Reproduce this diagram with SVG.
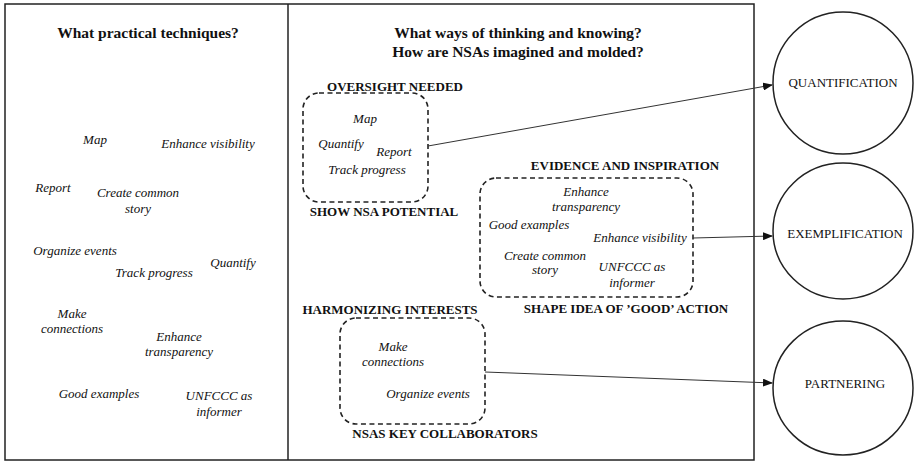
<svg xmlns="http://www.w3.org/2000/svg" width="916" height="463" viewBox="0 0 916 463" font-family="'Liberation Serif', 'DejaVu Serif', 'Times New Roman', serif">
<style>
text{fill:#111;text-anchor:middle}
.t{font-size:15.5px;font-weight:bold}
.h{font-size:13px;font-weight:bold}
.i{font-size:13px;font-style:italic}
.c{font-size:13px}
.frame{fill:none;stroke:#222;stroke-width:1.5}
.box{fill:none;stroke:#222;stroke-width:1.6;stroke-dasharray:5,3.5}
.circ{fill:#fff;stroke:#222;stroke-width:1.5}
.conn{stroke:#333;stroke-width:1;fill:none}
</style>
<defs>
<marker id="ah" markerWidth="10" markerHeight="8" refX="9" refY="4" orient="auto" markerUnits="userSpaceOnUse">
<path d="M0,0 L10,4 L0,8 Z" fill="#111"/>
</marker>
</defs>
<rect width="916" height="463" fill="#fff"/>
<g id="frame">
<rect class="frame" x="5" y="4" width="749" height="456"/>
<line class="frame" x1="288" y1="4" x2="288" y2="460"/>
</g>
<g id="left-panel">
<text class="t" x="148" y="38">What practical techniques?</text>
<text class="i" x="95" y="144">Map</text>
<text class="i" x="208" y="148">Enhance visibility</text>
<text class="i" x="53" y="192">Report</text>
<text class="i" x="138" y="197">Create common</text>
<text class="i" x="138" y="213">story</text>
<text class="i" x="75" y="255">Organize events</text>
<text class="i" x="233" y="267">Quantify</text>
<text class="i" x="154" y="277">Track progress</text>
<text class="i" x="72" y="318">Make</text>
<text class="i" x="72" y="333">connections</text>
<text class="i" x="179" y="341">Enhance</text>
<text class="i" x="179" y="356">transparency</text>
<text class="i" x="99" y="398">Good examples</text>
<text class="i" x="219" y="400">UNFCCC as</text>
<text class="i" x="219" y="416">informer</text>
</g>
<g id="middle-title">
<text class="t" x="518" y="38">What ways of thinking and knowing?</text>
<text class="t" x="518" y="57">How are NSAs imagined and molded?</text>
</g>
<g id="oversight">
<text class="h" x="395" y="91">OVERSIGHT NEEDED</text>
<rect class="box" x="303" y="93" width="125" height="109" rx="16"/>
<text class="i" x="365" y="123">Map</text>
<text class="i" x="341" y="148">Quantify</text>
<text class="i" x="394" y="156">Report</text>
<text class="i" x="367" y="174">Track progress</text>
<text class="h" x="384" y="216">SHOW NSA POTENTIAL</text>
</g>
<g id="evidence">
<text class="h" x="625" y="170">EVIDENCE AND INSPIRATION</text>
<rect class="box" x="480" y="178" width="213" height="119" rx="16"/>
<text class="i" x="586" y="196">Enhance</text>
<text class="i" x="586" y="211">transparency</text>
<text class="i" x="529" y="229">Good examples</text>
<text class="i" x="640" y="242">Enhance visibility</text>
<text class="i" x="545" y="260">Create common</text>
<text class="i" x="545" y="274">story</text>
<text class="i" x="632" y="271">UNFCCC as</text>
<text class="i" x="632" y="287">informer</text>
<text class="h" x="626" y="313">SHAPE IDEA OF ’GOOD’ ACTION</text>
</g>
<g id="harmonizing">
<text class="h" x="390" y="314">HARMONIZING INTERESTS</text>
<rect class="box" x="340" y="318" width="145" height="106" rx="16"/>
<text class="i" x="393" y="351">Make</text>
<text class="i" x="393" y="366">connections</text>
<text class="i" x="428" y="398">Organize events</text>
<text class="h" x="445" y="438">NSAS KEY COLLABORATORS</text>
</g>
<g id="quantification">
<ellipse class="circ" cx="843" cy="83" rx="70" ry="71"/>
<text class="c" x="843" y="87">QUANTIFICATION</text>
</g>
<g id="exemplification">
<ellipse class="circ" cx="843" cy="231" rx="70" ry="68"/>
<text class="c" x="845" y="238">EXEMPLIFICATION</text>
</g>
<g id="partnering">
<ellipse class="circ" cx="843" cy="388" rx="70" ry="67"/>
<text class="c" x="845" y="388">PARTNERING</text>
</g>
<g id="connectors">
<line class="conn" x1="428" y1="146" x2="772" y2="85" marker-end="url(#ah)"/>
<line class="conn" x1="693" y1="238" x2="772" y2="236" marker-end="url(#ah)"/>
<line class="conn" x1="485" y1="372" x2="772" y2="383" marker-end="url(#ah)"/>
</g>
</svg>
